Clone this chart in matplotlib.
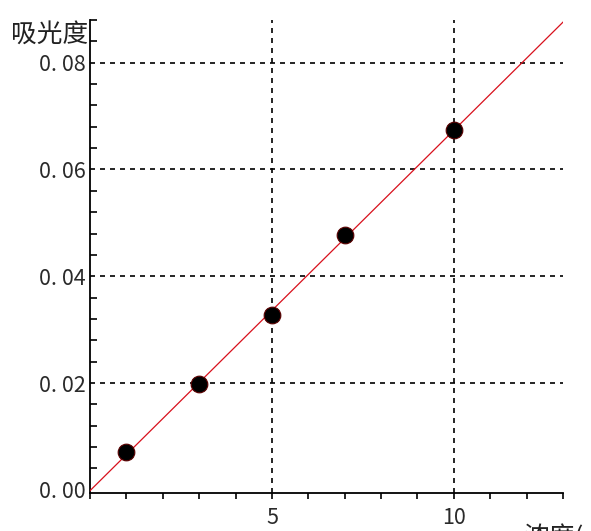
import matplotlib
matplotlib.use('Agg')
import matplotlib.pyplot as plt
from matplotlib.ticker import MultipleLocator, FuncFormatter
import numpy as np

plt.rcParams['font.family'] = ['Noto Sans CJK SC', 'DejaVu Sans']

# standard curve: concentration vs absorbance
conc = [1, 3, 5, 7, 10]
absorb = [0.0071, 0.0198, 0.0327, 0.0477, 0.0674]
x_range = [0, 13]
y_range = [-0.0006, 0.088]
y_label = '吸光度'
x_label = '浓度(mg/L)'

fig = plt.figure(figsize=(5.91, 5.31), dpi=100)
ax = fig.add_axes([90 / 591, 1 - 493 / 531, 473 / 591, 473 / 531])

# fitted line across the full x range
k, b = np.polyfit(conc, absorb, 1)
xs = np.array(x_range, dtype=float)
ax.plot(xs, k * xs + b, color='#d8101c', lw=0.9, zorder=3)
ax.plot(conc, absorb, 'o', ms=12, mfc='black', mec='#5a0000', mew=0.8, zorder=4)

ax.set_xlim(x_range)
ax.set_ylim(y_range)

ax.xaxis.set_major_locator(MultipleLocator(5))
ax.xaxis.set_minor_locator(MultipleLocator(1))
ax.yaxis.set_major_locator(MultipleLocator(0.02))
ax.yaxis.set_minor_locator(MultipleLocator(0.004))
ax.xaxis.set_major_formatter(FuncFormatter(lambda v, p: '' if v == 0 else '%d' % v))
ax.yaxis.set_major_formatter(FuncFormatter(lambda v, p: ('%.2f' % v).replace('.', '. ')))

for side in ['top', 'right']:
    ax.spines[side].set_visible(False)
for side in ['left', 'bottom']:
    ax.spines[side].set_linewidth(1.3)

ax.tick_params(axis='x', which='both', direction='out', length=4, width=1.2,
               labelsize=15.5, pad=6, labelcolor='#2a2a2a')
ax.tick_params(axis='y', which='both', direction='in', length=5, width=1.2,
               labelsize=15.5, pad=3, labelcolor='#2a2a2a')
ax.tick_params(axis='y', which='major', length=0)

# dashed grid on the major ticks, skipping the ones on the axes
for v in ax.get_xticks():
    if x_range[0] < v < x_range[1]:
        ax.axvline(v, color='black', ls=(0, (3, 3)), lw=1.2, zorder=1)
for v in ax.get_yticks():
    if 0 < v < y_range[1]:
        ax.axhline(v, color='black', ls=(0, (3, 3)), lw=1.2, zorder=1)

fig.text(88 / 591, 1 - 35 / 531, y_label, ha='right', va='center', fontsize=18.5, color='#222222')
ax.text(0.915, -0.065, x_label, transform=ax.transAxes, ha='left', va='top',
        fontsize=18.5, color='#222222')

fig.savefig('out.png', dpi=100)
